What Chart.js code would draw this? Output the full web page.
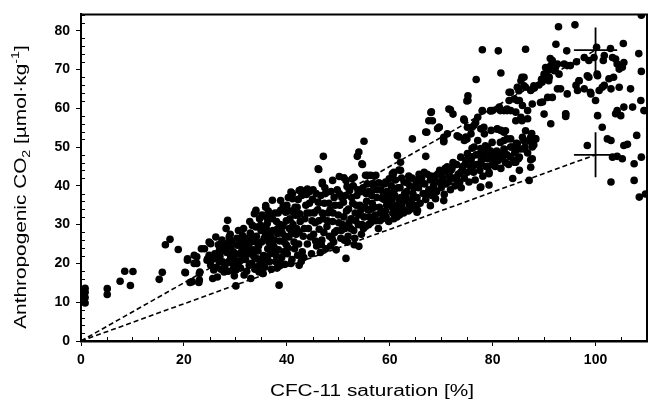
<!DOCTYPE html>
<html>
<head>
<meta charset="utf-8">
<script src="https://cdn.jsdelivr.net/npm/chart.js@4.4.0/dist/chart.umd.min.js"></script>
<style>
  html, body { margin: 0; padding: 0; background: #fff; }
</style>
</head>
<body>
<canvas id="chart" width="654" height="406"></canvas>
<script>
// axis ticks
const xTickStep = 20;
const yTickStep = 10;
const xMinorStep = 5;
const yMinorStep = 2;

const xTitle = "CFC-11 saturation [%]";
const yTitleParts = [["Anthropogenic CO", ""], ["2", "sub"], [" [\u00b5mol\u00b7kg", ""], ["-1", "sup"], ["]", ""]];

// sparse points at low saturation
const leftPoints = [
  [0.8,13.6],[0.8,12.6],[0.8,11.2],[0.8,9.8],[5.1,13.5],[5.1,12.0],[7.6,15.4],[8.5,18.0],
  [9.6,14.3],[10.1,17.9],[15.2,15.9],[15.8,17.7],[16.4,24.8],[17.3,26.2],[18.9,23.6],
  [20.2,17.7],[20.7,20.8],[20.7,21.2],[20.3,17.6],[21.2,15.1],[21.6,15.3],[22.0,20.0],
  [22.0,22.1],[22.5,21.7],[22.5,20.0],[23.0,15.7],[23.0,17.4],[23.1,17.8],[23.4,23.8],[22.9,15.1]
];

// main band
const bandPoints = [
  [24.0,23.8],[24.6,21.2],[24.9,25.5],[25.2,19.5],[25.6,16.1],[26.2,26.8],[26.9,23.4],[27.5,20.4],
  [27.8,17.8],[28.2,29.0],[28.5,31.1],[28.8,25.5],[29.1,21.7],[29.5,18.3],[30.1,14.2],[30.4,24.7],
  [30.7,20.4],[31.4,27.2],[31.7,17.0],[32.4,22.9],[32.7,19.5],[33.3,29.8],[33.9,33.2],[34.0,25.5],
  [34.3,21.2],[34.6,17.8],[35.0,28.5],[35.4,17.4],[35.9,34.9],[36.3,23.8],[36.6,20.4],[36.9,26.8],
  [37.2,31.5],[37.9,22.1],[38.2,28.9],[38.5,14.4],[38.8,33.7],[38.8,19.5],[39.5,25.5],[39.8,33.2],
  [40.1,22.5],[40.5,29.0],[40.8,20.0],[41.1,36.7],[41.4,25.5],[41.7,32.4],[42.1,22.1],[42.4,28.1],
  [24.5,20.8],[24.9,22.1],[25.2,25.1],[25.8,18.3],[26.5,16.5],[26.9,20.4],[27.5,23.4],[28.8,26.8],
  [29.1,24.3],[29.4,20.0],[30.1,18.3],[31.1,20.8],[31.7,24.3],[32.4,26.0],[32.7,22.5],[33.0,16.1],
  [33.7,32.8],[34.0,29.4],[34.3,19.1],[35.3,17.4],[36.2,30.3],[36.9,32.0],[37.2,36.3],[38.2,27.7],
  [37.5,24.3],[38.8,20.0],
  [25.5,21.0],[26.0,22.5],[26.3,19.0],[26.7,24.8],[27.2,18.5],[27.0,21.8],
  [28.0,19.5],[28.3,22.8],[28.6,18.0],[29.0,27.5],[29.6,23.0],[30.0,20.8],[30.3,26.5],[29.8,16.8],
  [30.8,22.5],[31.0,18.8],[31.2,25.5],[31.6,29.0],[32.0,21.0],[32.2,18.0],[32.5,24.5],[32.9,27.8],
  [33.2,20.0],[33.5,23.5],[33.8,18.5],[34.1,27.0],[34.4,23.2],[34.8,20.0],[35.1,25.5],[35.5,22.0],
  [35.7,19.0],[35.9,27.5],[36.1,31.8],[36.5,25.5],[36.8,22.5],[37.0,18.5],[37.3,28.5],[37.6,26.0],
  [37.8,20.5],[38.0,30.8],[38.4,23.5],[38.6,25.8],[39.0,21.5],[39.2,29.5],[39.4,23.0],[39.7,27.0],
  [39.9,31.0],[40.2,24.0],[40.4,26.8],[40.7,33.5],[41.0,21.0],[41.2,30.0],[41.5,23.8],[41.8,27.5],
  [42.0,34.5],[42.3,25.0],[42.6,30.8],[42.8,20.5],
  [27.8,25.0],[28.7,20.5],[29.9,22.5],[30.6,28.5],[31.8,22.0],[33.1,25.5],[34.7,31.5],[35.3,20.5],
  [36.0,29.0],[37.4,23.5],[38.3,33.0],[39.1,27.8],[40.0,35.0],[40.6,31.5],[41.6,34.5],[42.2,36.5],
  [26.4,21.2],[27.4,26.0],[28.1,23.8],[29.3,25.8],[30.5,19.5],[31.3,23.5],[31.9,26.5],[32.8,30.8],
  [33.6,21.8],[33.4,27.0],[34.5,24.5],[34.9,29.8],[35.2,32.5],[35.6,26.5],[36.2,21.8],[36.4,33.5],
  [36.7,28.0],[37.1,24.8],[37.7,33.0],[38.1,18.8],[38.7,30.0],[39.3,34.8],[39.6,19.8],[39.9,24.8],
  [40.3,37.0],[40.9,27.8],[41.3,33.2],[41.9,29.0],[42.5,32.8],[42.9,37.5],
  [34.0,33.7],[35.9,34.5],[38.8,36.2],[40.8,38.4],[42.7,39.0],[44.0,39.2],[46.9,40.9],[48.9,41.4],
  [50.2,42.4],[51.1,42.1],[52.7,41.8],[55.3,42.7],[56.6,40.5],[57.3,42.7],
  [59.2,41.0],[55.7,42.7],[53.1,42.2],[51.5,41.4],[46.9,40.5],[44.3,38.4],[42.4,38.8],[41.1,38.0],
  [51.5,21.3],[54.0,24.4],[42.4,19.5],
  [43.0,23.0],[43.2,27.0],[43.5,31.5],[43.7,35.0],[44.0,25.0],[44.2,29.0],[44.5,33.0],[44.8,22.5],
  [45.0,36.5],[45.2,27.5],[45.5,30.5],[45.8,24.5],[46.0,33.8],[46.3,28.8],[46.6,37.5],[46.8,26.0],
  [47.0,31.5],[47.3,35.5],[47.6,23.8],[47.8,29.5],[48.0,33.0],[48.3,27.0],[48.6,38.5],[48.9,30.8],
  [49.1,25.5],[49.4,35.0],[49.7,28.5],[50.0,32.5],[50.2,38.0],[50.5,26.5],[50.8,30.0],[51.0,35.8],
  [51.3,29.0],[51.6,33.5],[51.9,27.0],[52.2,38.8],[52.5,31.5],[52.8,35.5],[53.0,28.5],[53.3,33.0],
  [53.6,37.5],[53.9,30.0],[54.2,35.0],[54.5,27.5],[54.8,39.5],[55.0,32.0],
  [43.4,29.0],[43.9,33.0],[44.6,26.8],[45.3,33.0],[45.7,38.0],[46.2,31.0],[46.7,24.8],[47.2,28.0],
  [47.5,38.0],[48.2,35.5],[48.5,24.5],[49.0,33.0],[49.3,28.0],[49.8,39.0],[50.3,35.0],[50.6,28.5],
  [51.1,32.0],[51.4,37.5],[51.8,25.5],[52.0,34.0],[52.4,29.0],[52.9,40.0],[53.2,26.5],[53.5,35.0],
  [54.0,32.5],[54.3,38.5],[54.6,30.0],[55.2,34.5],[55.6,40.5],[56.1,32.0],[56.5,37.5],[57.0,34.5],
  [57.6,39.0],[58.1,31.0],[58.5,36.8],[59.0,40.5],[59.3,32.0],[59.7,36.8],[60.2,38.0],[60.5,34.5],
  [61.1,41.5],[61.5,33.5],[62.0,39.5],[62.4,35.5],[62.9,38.0],[63.4,40.8],[63.8,35.0],[64.3,42.0],
  [64.7,39.5],[65.2,35.0],
  [43.3,21.5],[43.8,37.8],[44.4,35.5],[44.9,31.0],[45.1,39.0],[45.6,25.8],[46.1,35.8],[46.5,22.8],
  [46.9,33.0],[47.4,39.5],[47.9,31.0],[48.4,33.8],[48.8,26.5],[49.2,37.0],[49.6,23.5],[50.1,30.5],
  [50.7,37.0],[51.2,26.0],[51.7,39.8],[52.1,30.5],[52.6,37.0],[53.1,24.8],[53.4,31.0],[53.8,39.0],
  [54.4,33.8],[54.9,29.0],[55.4,38.0],[55.9,30.0],
  [55.3,29.5],[55.5,36.0],[55.8,33.8],[56.0,38.5],[56.3,30.5],[56.6,35.5],[56.9,40.5],[57.2,32.5],
  [57.5,37.0],[57.8,29.0],[58.0,34.5],[58.3,39.0],[58.6,31.5],[58.9,36.5],[59.2,33.5],[59.5,38.5],
  [59.8,30.8],[60.0,35.5],[60.3,40.0],[60.6,33.0],[60.8,31.5],[61.0,37.5],[61.3,35.0],[61.6,39.5],
  [61.9,32.5],[62.2,37.0],[62.5,34.0],[62.8,41.0],[63.0,36.5],[63.3,38.5],[63.6,33.5],[63.9,40.0],
  [64.2,36.0],[64.5,38.0],[64.8,34.5],[65.0,41.5],
  [56.4,34.0],[56.8,39.0],[57.3,31.0],[57.9,40.8],[58.2,33.0],[58.8,38.0],[59.4,35.0],[59.9,41.8],
  [60.4,36.5],[60.9,39.0],[61.4,32.0],[61.8,36.5],[62.3,42.0],[62.7,33.0],[63.2,37.0],[63.7,42.5],
  [64.1,34.0],[64.6,37.0],[65.1,40.0],[65.7,43.0],
  [60.8,43.5],[57.0,42.5],[65.4,33.7],[60.7,43.1],[61.8,44.1],[56.3,42.7],
  [65.3,37.0],[65.6,39.5],[65.9,35.5],[66.2,42.0],[66.5,38.0],[66.8,40.5],[67.0,36.5],[67.3,43.0],
  [67.6,39.0],[67.9,41.5],[68.2,37.5],[68.5,40.0],[68.8,42.5],[69.1,38.5],[69.4,41.0],[69.7,44.0],
  [70.0,39.5],[70.3,42.0],[70.6,37.8],[70.9,40.5],[71.2,43.5],[71.5,41.0],[71.8,39.0],[72.1,44.5],
  [72.4,42.0],[72.7,40.0],[73.0,45.5],[73.3,43.0],[73.6,41.0],[73.9,39.5],[74.2,44.0],[74.5,42.0],
  [74.8,46.5],[75.1,43.5],[75.4,41.0],[75.7,45.0],[76.0,47.5],[76.3,43.5],[76.6,41.5],[76.9,45.5],
  [77.2,48.0],[77.5,44.0],[77.8,46.5],[78.1,42.5],[78.4,48.5],[78.7,45.0],[79.0,47.0],[79.3,43.5],
  [79.6,49.0],[79.9,45.5],
  [66.0,41.0],[66.7,43.5],[67.4,38.0],[68.0,42.5],[68.7,39.0],[69.3,43.0],[70.1,41.0],[70.8,44.5],
  [71.6,42.5],[72.3,46.0],[73.1,41.5],[73.8,43.5],[74.6,45.5],[75.3,47.5],[76.1,45.0],[76.8,48.0],
  [77.6,45.5],[78.3,47.5],[79.1,45.0],[79.8,48.0],
  [68.9,36.7],[70.5,36.2],[67.9,34.9],[65.3,33.2],[77.6,39.6],[79.3,40.2],[77.7,39.7],
  [80.2,47.5],[80.5,45.0],[80.8,49.0],[81.0,46.5],[81.3,48.0],[81.6,44.5],[81.9,47.0],[82.2,49.5],
  [82.5,46.0],[82.8,48.0],[83.1,45.5],[83.4,47.5],[83.7,50.0],[84.0,46.5],[84.3,48.5],[84.6,51.0],
  [85.0,47.0],[85.4,49.5],[85.8,52.5],[86.3,50.0],[86.8,48.5],[87.2,51.5],[87.6,53.5],[88.0,50.5],
  [80.9,48.3],[81.6,47.4],[80.3,46.6],[82.2,49.1],[83.5,50.0],[84.8,50.9],[86.1,51.7],[87.4,52.6],
  [88.4,52.1],[87.7,50.0],[84.5,49.1],[85.2,47.4],[84.2,46.1],[87.4,46.7],[85.2,44.0],[83.9,41.9],
  [87.1,41.4],[79.3,43.1],[76.4,50.0],[75.1,48.3],[73.8,47.4],[72.5,45.7],[71.2,44.9],[69.9,43.1],
  [68.6,41.4],[74.5,51.7],[77.1,51.7],[78.4,53.4],[79.7,54.3],[81.6,54.3],[82.2,51.7],[79.0,50.0],
  [77.7,49.6],[75.8,46.6],[74.1,44.9],[71.9,44.0],[87.7,47.0],[87.4,44.8],[84.5,46.1],[86.1,49.5]
];

// scattered points above the band
const upperPoints = [
  [55.0,51.5],[54.0,48.7],[47.1,47.6],[46.2,44.2],[54.6,45.7],[53.7,47.6],[54.7,45.5],[61.5,47.8],
  [62.1,44.0],[60.5,43.1],[46.1,44.4],[62.1,46.1],[64.4,52.1],[67.2,53.8],[67.0,47.6],[70.5,51.7],
  [71.2,53.4],
  [68.0,58.9],[68.3,56.8],[69.6,55.1],[70.5,52.5],[71.5,59.8],[75.0,61.9],[71.8,59.6],[72.3,58.5],
  [68.1,59.1],[67.6,56.8],[69.3,54.8],[67.0,53.9],[70.5,51.4],[73.1,52.9],[75.0,52.1],[74.4,57.2],
  [76.7,56.3],[76.0,55.1],[78.3,55.1],[78.0,59.3],[79.6,59.3],[81.2,59.8],[82.8,59.8],[80.9,54.6],
  [82.2,53.8],[79.9,51.2],[81.5,51.2],[82.8,52.1],[76.0,49.7],[78.6,50.3],
  [78.0,75.1],[81.1,74.8],[86.4,75.2],[92.3,76.5],[94.4,74.8],[92.8,81.0],[96.0,81.5],[81.6,69.1],
  [76.8,67.4],[75.2,63.2],[75.2,62.0],[69.6,55.1],[74.5,56.9],[75.1,55.1],[76.4,55.6],[77.7,54.7],
  [75.8,53.4],[73.5,52.6],[74.8,52.6],[77.1,57.7],[78.0,59.4],[80.0,59.4],[81.3,60.3],[82.2,59.4],
  [83.5,59.4],[84.5,59.0],[85.5,57.7],[86.8,57.3],[86.8,59.4],[85.8,60.7],[85.2,62.0],[84.2,62.4],
  [83.2,62.0],[83.5,64.1],[84.8,65.4],[85.5,67.1],[86.1,68.0],[86.4,65.4],[87.4,64.6],[88.1,65.2],
  [89.7,61.6],[90.7,62.8],[91.6,62.8],[92.6,65.0],[94.2,58.6],[94.2,57.9],[88.3,52.1],[86.1,51.7],
  [83.5,52.1],[86.4,54.2],[82.5,54.2],[80.9,54.7],[84.5,56.8],[85.7,56.8],[91.3,56.0],[90.0,58.5],
  [89.3,61.5],[87.7,61.1],[93.2,65.0],[94.5,63.7],[94.2,58.5],[88.0,65.8],[89.6,66.7],[90.9,67.1],
  [91.6,72.3],[91.3,71.0],[90.7,69.7],[90.0,68.8],[91.0,68.0],[92.0,69.7],[92.6,71.4],[93.9,71.4],
  [94.5,71.0],[89.5,67.5],[90.3,70.5],[91.2,72.8],[89.0,66.0],[90.5,68.0],[92.2,70.5],[92.9,68.8],
  [85.7,68.0],[86.1,65.8],[85.1,64.5],[83.2,64.1],[84.8,62.0],[81.5,59.4],[79.6,59.4],[82.8,59.4]
];

// scattered points near full saturation
const rightPoints = [
  [96.3,72.0],[97.8,73.1],[98.7,72.3],[99.7,73.1],[101.7,73.6],[101.5,72.3],[103.3,73.1],[103.9,72.7],
  [104.2,71.4],[104.6,70.1],[105.2,70.6],[105.5,71.8],[103.5,68.0],[102.6,67.6],[101.7,65.9],
  [100.4,68.4],[98.7,68.0],[96.8,67.1],[96.2,65.9],[96.5,64.6],[97.8,65.0],[99.1,63.7],[100.0,62.0],
  [100.7,64.6],[101.3,65.4],[103.0,65.0],[104.6,65.4],[106.8,65.0],[108.8,62.0],[107.2,60.3],
  [105.5,60.3],[104.2,59.4],[104.9,58.1],[103.9,58.6],[100.4,58.1],[95.1,71.0],[96.8,67.1],
  [98.4,68.4],[99.0,64.1],[100.3,68.8],
  [100.2,75.7],[102.9,75.4],[105.4,76.7],[108.4,74.1],[108.9,84.0],[108.9,69.5],[109.4,59.4],
  [101.3,55.1],[102.3,52.1],[103.0,51.7],[98.4,50.4],[105.5,50.4],[106.2,50.7],[108.0,53.0],
  [103.3,47.4],[104.2,47.6],[105.2,47.0],[107.5,45.7],[108.9,47.4],[103.0,41.0],[107.5,41.4],
  [108.5,37.1],[109.7,37.9]
];

// dashed reference lines from origin, and their end crosses
const lineEndX = 100;
const lineEndY = [75, 48];
const crossErrX = 4.2;
const crossErrY = 5.8;

const allPoints = leftPoints.concat(bandPoints, upperPoints, rightPoints).map(p => ({x: p[0], y: p[1]}));

const datasets = [{
  type: "scatter",
  data: allPoints,
  backgroundColor: "#000",
  borderWidth: 0,
  pointRadius: 3.8,
  pointHoverRadius: 3.8,
  order: 0
}];

lineEndY.forEach(yEnd => {
  datasets.push({
    type: "line",
    data: [{x: 0, y: 0}, {x: lineEndX, y: yEnd}],
    borderColor: "#000",
    borderWidth: 1.6,
    borderDash: [5, 3],
    pointRadius: 0,
    fill: false,
    order: 2
  });
  // error cross
  datasets.push({
    type: "line",
    data: [{x: lineEndX - crossErrX, y: yEnd}, {x: lineEndX + crossErrX, y: yEnd}],
    borderColor: "#000", borderWidth: 1.8, pointRadius: 0, fill: false, order: 1
  });
  datasets.push({
    type: "line",
    data: [{x: lineEndX, y: yEnd - crossErrY}, {x: lineEndX, y: yEnd + crossErrY}],
    borderColor: "#000", borderWidth: 1.8, pointRadius: 0, fill: false, order: 1
  });
});

const frame = {
  id: "frame",
  afterDraw(chart) {
    const {ctx, chartArea: a, scales: {x, y}} = chart;
    ctx.save();
    ctx.strokeStyle = "#000";
    ctx.lineWidth = 2;
    ctx.beginPath();
    ctx.moveTo(a.left, a.top);
    ctx.lineTo(a.right, a.top);
    ctx.lineTo(a.right, a.bottom);
    ctx.stroke();

    // minor ticks, pointing inward
    ctx.lineWidth = 1;
    ctx.beginPath();
    for (let v = xMinorStep; v < x.max; v += xMinorStep) {
      if (v % xTickStep === 0) continue;
      const px = Math.round(x.getPixelForValue(v)) + 0.5;
      ctx.moveTo(px, a.bottom);
      ctx.lineTo(px, a.bottom - 4);
    }
    for (let v = yMinorStep; v < y.max; v += yMinorStep) {
      if (v % yTickStep === 0) continue;
      const py = Math.round(y.getPixelForValue(v)) + 0.5;
      ctx.moveTo(a.left, py);
      ctx.lineTo(a.left + 4, py);
    }
    ctx.stroke();

    // axis titles
    ctx.fillStyle = "#000";
    ctx.font = "16px 'Liberation Sans', Arial, sans-serif";
    ctx.textBaseline = "middle";
    ctx.textAlign = "center";
    ctx.save();
    ctx.translate((a.left + a.right) / 2 + 8, 392);
    ctx.scale(1.3, 1);
    ctx.fillText(xTitle, 0, 0);
    ctx.restore();

    ctx.save();
    ctx.translate(22, 187);
    ctx.rotate(-Math.PI / 2);
    ctx.scale(1.3, 1);
    ctx.textAlign = "left";
    const big = "16px 'Liberation Sans', Arial, sans-serif";
    const small = "11px 'Liberation Sans', Arial, sans-serif";
    let total = 0;
    yTitleParts.forEach(([t, k]) => { ctx.font = k ? small : big; total += ctx.measureText(t).width; });
    let cx = -total / 2;
    yTitleParts.forEach(([t, k]) => {
      ctx.font = k ? small : big;
      const dy = k === "sub" ? 5 : k === "sup" ? -6 : 0;
      ctx.fillText(t, cx, dy);
      cx += ctx.measureText(t).width;
    });
    ctx.restore();
    ctx.restore();
  }
};

const tickFont = {family: "'Liberation Sans', Arial, sans-serif", size: 14, weight: "bold"};

new Chart(document.getElementById("chart"), {
  data: {datasets: datasets},
  options: {
    responsive: false,
    animation: false,
    events: [],
    layout: {padding: {left: 0, right: 7, top: 13, bottom: 0}},
    plugins: {legend: {display: false}, tooltip: {enabled: false}},
    scales: {
      x: {
        type: "linear",
        min: 0,
        max: 110,
        afterFit: s => { s.height = 65; },
        ticks: {stepSize: xTickStep, includeBounds: false, color: "#000", font: tickFont, padding: 6, maxRotation: 0},
        grid: {drawOnChartArea: false, drawTicks: true, tickLength: 5, color: "#000", lineWidth: 1},
        border: {display: true, color: "#000", width: 2.5}
      },
      y: {
        type: "linear",
        min: 0,
        max: 84.2,
        afterFit: s => { s.width = 81; },
        ticks: {stepSize: yTickStep, includeBounds: false, color: "#000", font: tickFont, padding: 6},
        grid: {drawOnChartArea: false, drawTicks: true, tickLength: 5, color: "#000", lineWidth: 1},
        border: {display: true, color: "#000", width: 2}
      }
    }
  },
  plugins: [frame]
});
</script>
</body>
</html>
